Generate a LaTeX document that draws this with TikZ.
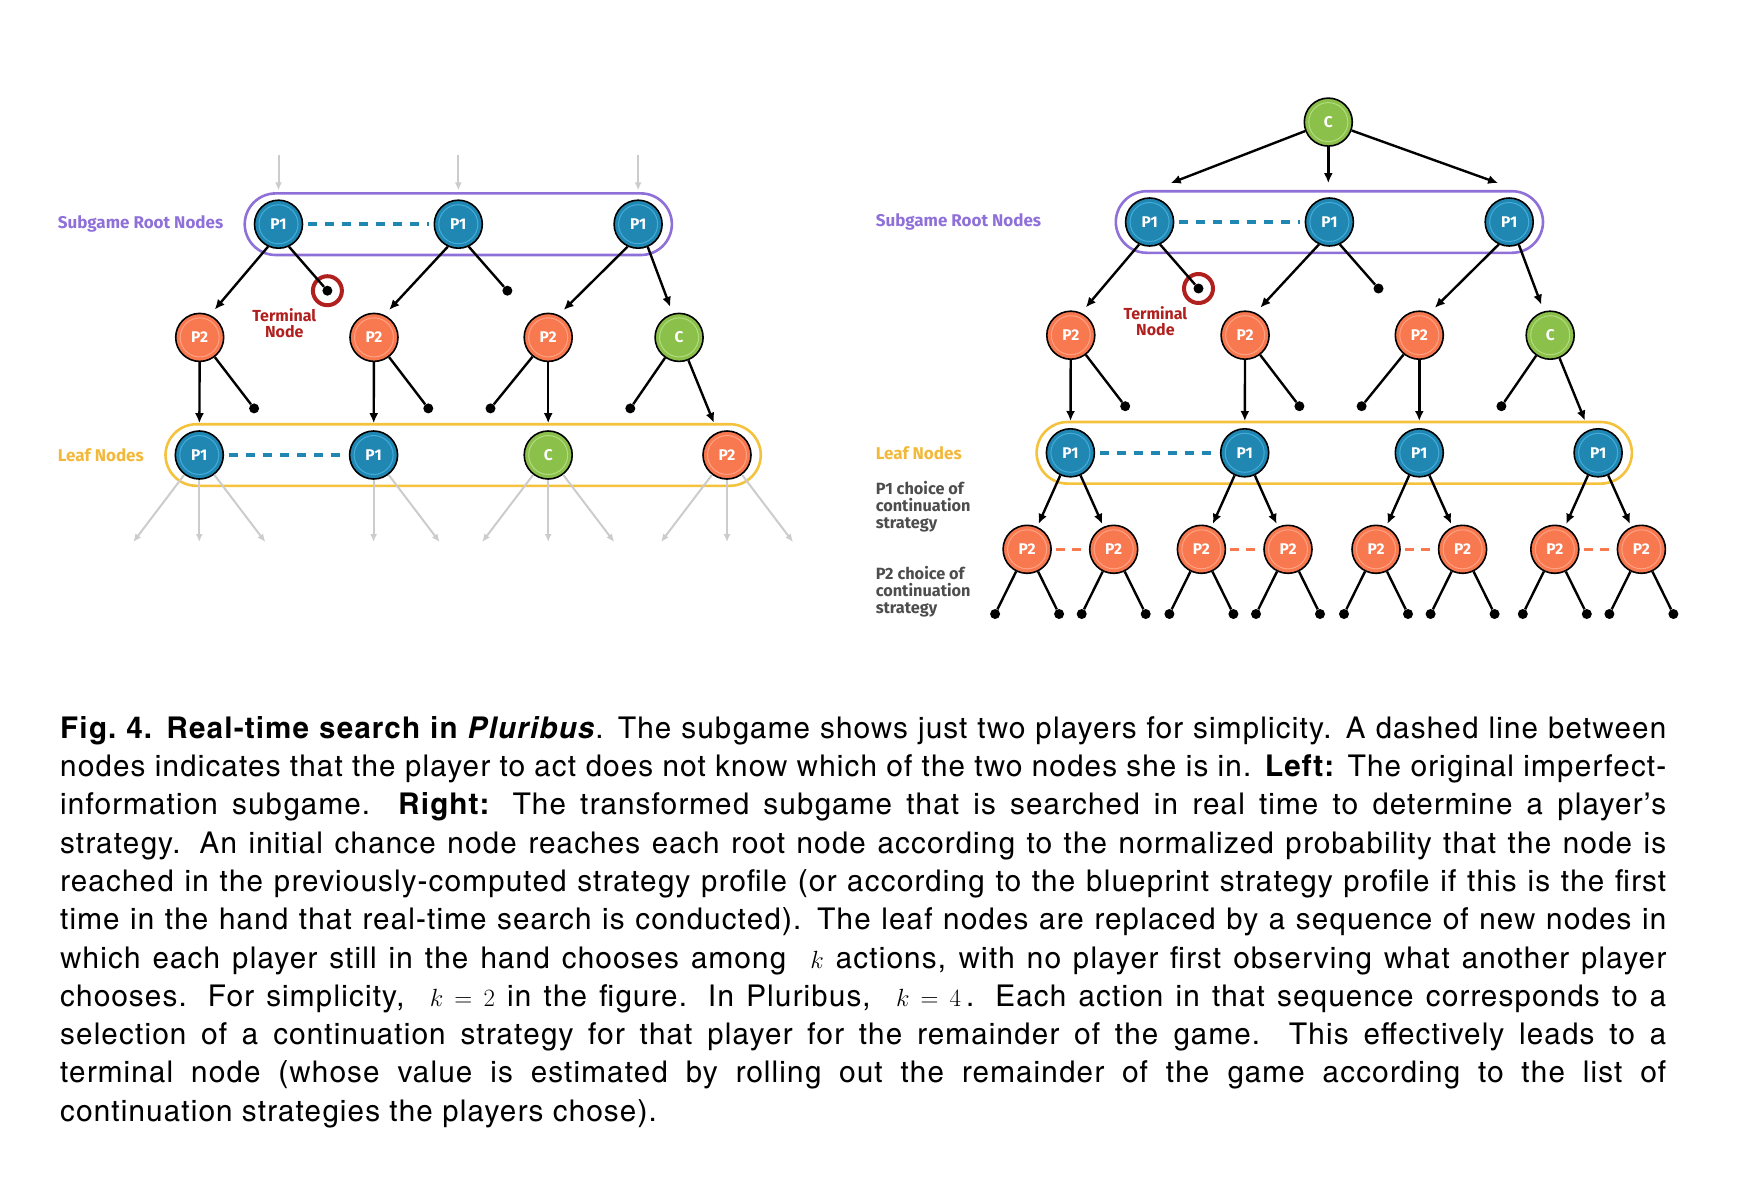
\documentclass[tikz,border=0pt]{standalone}
\usepackage{fontspec}
\newfontfamily\labfont{Fira Sans}
\newfontfamily\capfont{texgyreheroscn}[Extension=.otf,UprightFont=*-regular,BoldFont=*-bold,ItalicFont=*-italic,BoldItalicFont=*-bolditalic,FakeStretch=1.2,LetterSpace=4]
\usetikzlibrary{arrows.meta,fit}
\definecolor{pblue}{HTML}{1F87B2}
\definecolor{pbluering}{HTML}{45ACDA}
\definecolor{porange}{HTML}{F8784F}
\definecolor{porangering}{HTML}{FFA283}
\definecolor{pgreen}{HTML}{8BC04B}
\definecolor{pgreenring}{HTML}{B3DC7D}
\definecolor{ppurple}{HTML}{8E70D8}
\definecolor{pyellow}{HTML}{F4C23C}
\definecolor{plabyellow}{HTML}{F2B83A}
\definecolor{pred}{HTML}{B0201E}
\definecolor{pgray}{HTML}{CCCCCC}
\definecolor{ptext}{HTML}{4D4D4D}
\tikzset{
  gnode/.style={circle, draw=black, line width=1.6pt, minimum size=48pt, inner sep=0pt,
    text=white, font=\labfont\bfseries\fontsize{15.5}{18}\selectfont},
  pone/.style={gnode, fill=pblue, path picture={\draw[pbluering, line width=1pt] (path picture bounding box.center) circle (19.5pt);}},
  ptwo/.style={gnode, fill=porange, path picture={\draw[porangering, line width=1pt] (path picture bounding box.center) circle (19.5pt);}},
  chance/.style={gnode, fill=pgreen, path picture={\draw[pgreenring, line width=1pt] (path picture bounding box.center) circle (19.5pt);}},
  edge/.style={black, line width=2.4pt},
  arr/.style={edge, -{Latex[length=10pt,width=9pt]}, shorten >=7pt},
  arrs/.style={edge, -{Latex[length=10pt,width=9pt]}, shorten >=3pt},
  grayarr/.style={pgray, line width=2pt, -{Latex[length=8pt,width=7pt]}},
  dot/.style={circle, fill=black, inner sep=0pt, minimum size=10pt},
  termring/.style={circle, draw=pred, line width=4pt, minimum size=29pt, inner sep=0pt},
  termlab/.style={align=center, text=pred, font=\labfont\bfseries\fontsize{16}{16.5}\selectfont, inner sep=0pt},
  bdash/.style={pblue, line width=3.6pt, dash pattern=on 9pt off 8pt, shorten <=5pt, shorten >=5pt},
  odash/.style={porange, line width=3.6pt, dash pattern=on 9pt off 7pt, shorten <=4pt, shorten >=4pt},
  rootbox/.style={draw=ppurple, line width=2.6pt, rounded corners=31pt, inner xsep=9pt, inner ysep=6pt},
  leafbox/.style={draw=pyellow, line width=2.6pt, rounded corners=31pt, inner xsep=9pt, inner ysep=6pt},
  lab/.style={inner sep=0pt, anchor=west, font=\labfont\bfseries\fontsize{17}{17}\selectfont},
  sidelab/.style={inner sep=0pt, anchor=north west, align=left, text=ptext, font=\labfont\bfseries\fontsize{16.3}{16.8}\selectfont},
}
\newcommand\treepart[7]{%
\begin{scope}[shift={(#2,#3)}]
  \node[pone] (#1r1) at (278.5,224.2) {P1};
  \node[pone] (#1r2) at (458.3,224.2) {P1};
  \node[pone] (#1r3) at (638.1,224.2) {P1};
  \node[rootbox, fit=(#1r1)(#1r3)] (#1rb) {};
  \draw[bdash] (#1r1) -- (#1r2);
  \node[dot] (#1t) at (327.4,290.7) {};
  \node[termring] (#1tr) at (#1t) {};
  \node[termlab] (#1tl) at (284.3,323.3) {Terminal\\Node};
  \node[dot] (#1d2) at (507.4,290.7) {};
  \node[ptwo] (#1a1) at (199.7,337.4) {P2};
  \node[ptwo] (#1a2) at (374,337.4) {P2};
  \node[ptwo] (#1a3) at (548.2,337.4) {P2};
  \node[chance] (#1a4) at (679.1,337.4) {C};
  \node[dot] (#1e1) at (254.1,408.4) {};
  \node[dot] (#1e2) at (428.3,408.4) {};
  \node[dot] (#1e3) at (490.5,408.4) {};
  \node[dot] (#1e4) at (630.3,408.4) {};
  \node[pone] (#1l1) at (199.3,455) {P1};
  \node[pone] (#1l2) at (373.6,455) {P1};
  \node[#4] (#1l3) at (548.2,455) {#5};
  \node[#6] (#1l4) at (727,455) {#7};
  \node[leafbox, fit=(#1l1)(#1l4)] (#1lb) {};
  \draw[bdash] (#1l1) -- (#1l2);
  \draw[arr] (#1r1.245) -- (#1a1.65);
  \draw[edge] (#1r1.295) -- (#1t);
  \draw[arr] (#1r2.245) -- (#1a2.65);
  \draw[edge] (#1r2.295) -- (#1d2);
  \draw[arr] (#1r3.245) -- (#1a3.65);
  \draw[arr] (#1r3.293) -- (#1a4.105);
  \draw[arr] (#1a1) -- (#1l1);
  \draw[edge] (#1a1) -- (#1e1);
  \draw[arr] (#1a2) -- (#1l2);
  \draw[edge] (#1a2) -- (#1e2);
  \draw[edge] (#1a3) -- (#1e3);
  \draw[arr] (#1a3) -- (#1l3);
  \draw[edge] (#1a4) -- (#1e4);
  \draw[arr, shorten >=10pt] (#1a4) -- (#1l4);
\end{scope}}
\begin{document}
\begin{tikzpicture}[x=1pt,y=-1pt]
\useasboundingbox (0,0) rectangle (1740,1178);
% ---------- left ----------
\treepart{L}{0}{0}{chance}{C}{ptwo}{P2}
\node[lab, text=ppurple] (Llab1) at (57.7,224.2) {Subgame Root Nodes};
\node[lab, text=plabyellow] (Llab2) at (57.7,455) {Leaf Nodes};
\coordinate (g1) at (278.5,155);
\coordinate (g2) at (458.3,155);
\coordinate (g3) at (638.1,155);
\draw[grayarr, shorten >=9pt] (g1) -- (Lr1);
\draw[grayarr, shorten >=9pt] (g2) -- (Lr2);
\draw[grayarr, shorten >=9pt] (g3) -- (Lr3);
\coordinate (h11) at (133.3,542); \coordinate (h12) at (199.3,542); \coordinate (h13) at (265.3,542);
\coordinate (h22) at (373.6,542); \coordinate (h23) at (439.6,542);
\coordinate (h31) at (482.2,542); \coordinate (h32) at (548.2,542); \coordinate (h33) at (614.2,542);
\coordinate (h41) at (661,542); \coordinate (h42) at (727,542); \coordinate (h43) at (793,542);
\draw[grayarr] (Ll1) -- (h11);
\draw[grayarr] (Ll1) -- (h12);
\draw[grayarr] (Ll1) -- (h13);
\draw[grayarr] (Ll2) -- (h22);
\draw[grayarr] (Ll2) -- (h23);
\draw[grayarr] (Ll3) -- (h31);
\draw[grayarr] (Ll3) -- (h32);
\draw[grayarr] (Ll3) -- (h33);
\draw[grayarr] (Ll4) -- (h41);
\draw[grayarr] (Ll4) -- (h42);
\draw[grayarr] (Ll4) -- (h43);
% ---------- right ----------
\treepart{R}{871.1}{-2.2}{pone}{P1}{pone}{P1}
\node[chance] (Rc) at (1328.3,122.1) {C};
\coordinate (c1) at (1170.7,183.1);
\coordinate (c2) at (1328.3,183.1);
\coordinate (c3) at (1498.1,183.1);
\draw[arrs, shorten >=0pt] (Rc) -- (c1);
\draw[arrs, shorten >=0pt] (Rc) -- (c2);
\draw[arrs, shorten >=0pt] (Rc) -- (c3);
\node[lab, text=ppurple] (Rlab1) at (875.6,222) {Subgame Root Nodes};
\node[lab, text=plabyellow] (Rlab2) at (875.6,452.8) {Leaf Nodes};
\node[sidelab] (Rlab3) at (875.6,481) {P1 choice of\\continuation\\strategy};
\node[sidelab] (Rlab4) at (875.6,566.5) {P2 choice of\\continuation\\strategy};
\foreach \i/\x in {1/1070.4, 2/1244.7, 3/1419.3, 4/1598.1}{
  \node[ptwo] (Rm\i-a) at (\x-43.3,549.3) {P2};
  \node[ptwo] (Rm\i-b) at (\x+43.3,549.3) {P2};
  \draw[odash] (Rm\i-a) -- (Rm\i-b);
  \draw[arrs] (Rl\i) -- (Rm\i-a);
  \draw[arrs] (Rl\i) -- (Rm\i-b);
  \node[dot] (Rk\i-1) at (\x-75.3,614) {};
  \node[dot] (Rk\i-2) at (\x-11.3,614) {};
  \node[dot] (Rk\i-3) at (\x+11.3,614) {};
  \node[dot] (Rk\i-4) at (\x+75.3,614) {};
  \draw[edge] (Rm\i-a) -- (Rk\i-1);
  \draw[edge] (Rm\i-a) -- (Rk\i-2);
  \draw[edge] (Rm\i-b) -- (Rk\i-3);
  \draw[edge] (Rm\i-b) -- (Rk\i-4);
}
% ---------- caption ----------
\node[anchor=north west, inner sep=0pt, text width=1606pt, align=justify,
      font=\capfont\fontsize{30}{38.3}\selectfont] (cap) at (60,716) {%
\tolerance=10000\hyphenpenalty=10000\exhyphenpenalty=10000
{\bfseries Fig.~4. Real-time search in \textit{Pluribus}}. The subgame shows just two players for simplicity. A dashed line between\linebreak
nodes indicates that the player to act does not know which of the two nodes she is in. \textbf{Left:} The original imperfect-\linebreak
information subgame. \textbf{Right:} The transformed subgame that is searched in real time to determine a player’s\linebreak
strategy. An initial chance node reaches each root node according to the normalized probability that the node is\linebreak
reached in the previously-computed strategy profile (or according to the blueprint strategy profile if this is the first\linebreak
time in the hand that real-time search is conducted). The leaf nodes are replaced by a sequence of new nodes in\linebreak
which each player still in the hand chooses among \ $k$\ actions, with no player first observing what another player\linebreak
chooses. For simplicity, \ $k=2$\ in the figure. In Pluribus, \ $k=4$\,. Each action in that sequence corresponds to a\linebreak
selection of a continuation strategy for that player for the remainder of the game. This effectively leads to a\linebreak
terminal node (whose value is estimated by rolling out the remainder of the game according to the list of\linebreak
continuation strategies the players chose).};
\end{tikzpicture}
\end{document}
